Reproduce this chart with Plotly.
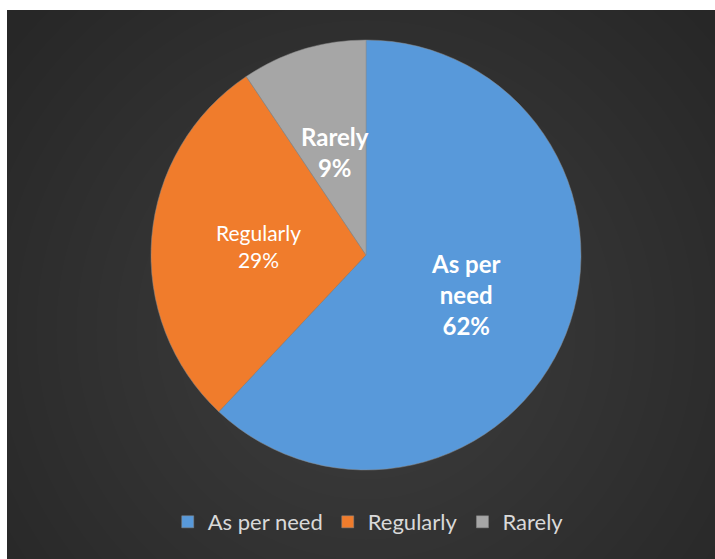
import math
import plotly.graph_objects as go

labels = ["As per need", "Regularly", "Rarely"]
values = [62.0, 28.6, 9.4]
colors = ["#5899DA", "#F07C2C", "#A6A6A6"]
label_texts = ["<b>As per<br>need<br>{p}</b>", "Regularly<br>{p}", "<b>Rarely<br>{p}</b>"]
label_sizes = [24, 21, 24]

W, H = 715, 559
CX, CY, R = 366, 255, 215

def px(x):
    return x / W

def py(y):
    return 1 - y / H

fig = go.Figure()
fig.add_trace(go.Pie(
    labels=labels, values=values, sort=False, direction="clockwise", rotation=0,
    marker=dict(colors=colors, line=dict(color="#8a8a8a", width=0.5)),
    textinfo="none",
    domain=dict(x=[px(CX - 300), px(CX + 300)], y=[py(CY + R), py(CY - R)]),
    hoverinfo="skip",
))

# labels placed at half radius along each slice's bisector (computed from values)
total = sum(values)
cum = 0.0
annotations = []
for lab, v, txt, fs in zip(labels, values, label_texts, label_sizes):
    mid = (cum + v / 2) / total * 2 * math.pi
    cum += v
    x = CX + 0.5 * R * math.sin(mid)
    y = CY - 0.5 * R * math.cos(mid)
    annotations.append(dict(
        x=px(x), y=py(y), xref="paper", yref="paper", showarrow=False,
        text=txt.format(p=f"{round(v / total * 100)}%"),
        font=dict(color="white", size=fs, family="Lato"), align="center",
        xanchor="center", yanchor="middle"))

shapes = [dict(type="rect", xref="paper", yref="paper", x0=0, x1=1, y0=0, y1=1,
               fillcolor="#272727", line=dict(width=0), layer="below")]
gx, gy = 366, 330
for r in range(450, 20, -20):
    shapes.append(dict(type="circle", xref="paper", yref="paper",
                       x0=px(gx - r), x1=px(gx + r), y0=py(gy + r), y1=py(gy - r),
                       fillcolor="white", opacity=0.0075, line=dict(width=0), layer="below"))
shapes.append(dict(type="rect", xref="paper", yref="paper", x0=-0.01, x1=px(7), y0=-0.01, y1=1.01,
                   fillcolor="white", line=dict(width=0), layer="below"))
shapes.append(dict(type="rect", xref="paper", yref="paper", x0=-0.01, x1=1.01, y0=py(10), y1=1.01,
                   fillcolor="white", line=dict(width=0), layer="below"))

fig.update_layout(
    width=W, height=H, margin=dict(l=0, r=0, t=0, b=0),
    paper_bgcolor="white", plot_bgcolor="white",
    shapes=shapes, annotations=annotations,
    showlegend=True,
    legend=dict(orientation="h", x=0.515, xanchor="center", y=py(522), yanchor="middle",
                font=dict(color="#d9d9d9", size=22, family="Lato"),
                bgcolor="rgba(0,0,0,0)", itemclick=False),
    font=dict(family="Lato"),
)

fig.write_html("out.html")
